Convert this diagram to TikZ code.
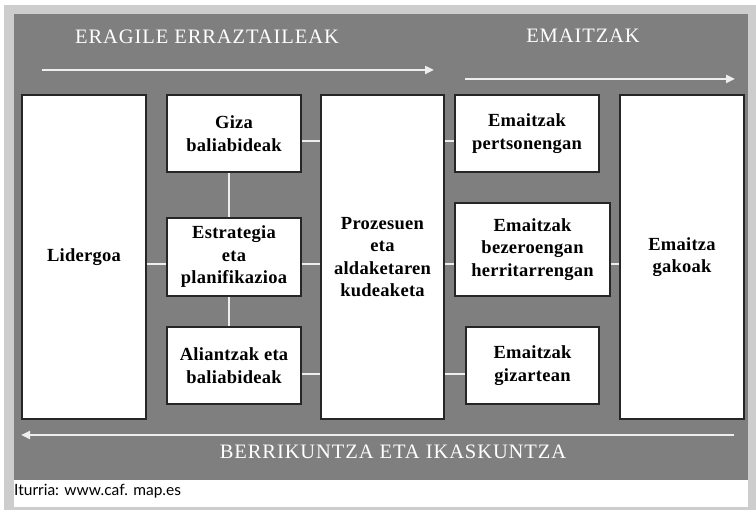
\documentclass[tikz,border=0pt]{standalone}
\usepackage{fontspec}
\setmainfont{Liberation Serif}
\newfontfamily\boxfont{Liberation Serif}[LetterSpace=1.5]
\newfontfamily\titlefont{Liberation Serif}[LetterSpace=4.5]
\newfontfamily\srcfont{Lato}
\usetikzlibrary{arrows.meta}
\definecolor{bggray}{HTML}{7F7F7F}
\definecolor{rimgray}{HTML}{CDCDCD}
\definecolor{linew}{HTML}{EEEEEE}
\tikzset{
  box/.style={draw=black!85, line width=1.1pt, fill=white, inner sep=0pt, align=center,
    font=\boxfont\fontsize{18.5}{22.5}\selectfont\bfseries},
  conn/.style={draw=linew, line width=2pt},
  bigarrow/.style={draw=linew, line width=2.5pt, -{Triangle[length=9pt,width=8pt]}},
  title/.style={text=white, font=\titlefont\fontsize{20.5}{24}\selectfont, inner sep=0pt}
}
\begin{document}
\begin{tikzpicture}[x=1pt,y=-1pt]
\useasboundingbox (0,0) rectangle (756,510);
\fill[white] (0,0) rectangle (756,510);
\fill[rimgray] (4,5) rectangle (756,510);
\fill[bggray] (14,14) rectangle (748,480);
\fill[white] (14,480) rectangle (748,507);

% boxes
\node[box, minimum width=124pt, minimum height=324pt] (lid) at (84,257) {Lidergoa};
\node[box, minimum width=134pt, minimum height=77pt] (giza) at (234,133.5) {Giza\\baliabideak};
\node[box, minimum width=134pt, minimum height=78pt] (estr) at (234,257) {Estrategia\\eta\\planifikazioa};
\node[box, minimum width=134pt, minimum height=77pt] (alia) at (234,365.5) {Aliantzak eta\\baliabideak};
\node[box, minimum width=123pt, minimum height=324pt] (proz) at (382.5,257) {Prozesuen\\eta\\aldaketaren\\kudeaketa};
\node[box, minimum width=144pt, minimum height=77pt] (pert) at (527,133.5) {Emaitzak\\pertsonengan};
\node[box, minimum width=155pt, minimum height=93pt] (beze) at (532.5,249.5) {Emaitzak\\bezeroengan\\herritarrengan};
\node[box, minimum width=133pt, minimum height=77pt] (giz) at (532.5,365.5) {Emaitzak\\gizartean};
\node[box, minimum width=124pt, minimum height=324pt] (gako) at (682,257) {Emaitza\\gakoak};

% anchor coordinates for connectors
\path ([yshift=-7pt]estr.west) coordinate (c1);
\path ([yshift=-7.5pt]giza.east) coordinate (c2);
\path ([yshift=-7pt]estr.east) coordinate (c3);
\path ([yshift=-8.5pt]alia.east) coordinate (c4);
\path ([xshift=-5pt]giza.south) coordinate (c5);
\path ([xshift=-5pt]alia.north) coordinate (c6);
\path ([yshift=-14.5pt]beze.east) coordinate (c7);

% connectors
\draw[conn] (lid.east |- c1) -- (c1);
\draw[conn] (c2) -- (proz.west |- c2);
\draw[conn] (c3) -- (proz.west |- c3);
\draw[conn] (c4) -- (proz.west |- c4);
\draw[conn] (c5) -- (estr.north -| c5);
\draw[conn] (estr.south -| c6) -- (c6);
\draw[conn] (proz.east |- c2) -- (pert.west |- c2);
\draw[conn] (proz.east |- c7) -- (beze.west |- c7);
\draw[conn] (proz.east |- c4) -- (giz.west |- c4);
\draw[conn] (c7) -- (gako.west |- c7);

% titles and arrows
\node[title] (t1) at (207,37) {ERAGILE ERRAZTAILEAK};
\node[title] (t2) at (583,36) {EMAITZAK};
\node[title] (t3) at (393,452) {BERRIKUNTZA ETA IKASKUNTZA};
\coordinate (a1s) at (42,70);
\coordinate (a1e) at (434,70);
\coordinate (a2s) at (465,79);
\coordinate (a2e) at (735,79);
\coordinate (a3s) at (734,435);
\coordinate (a3e) at (21,435);
\draw[bigarrow] (a1s) -- (a1e);
\draw[bigarrow] (a2s) -- (a2e);
\draw[bigarrow] (a3s) -- (a3e);

\node[anchor=west, inner sep=0pt, font=\srcfont\fontsize{15.5}{18}\selectfont] (src) at (14,491) {Iturria: www.caf. map.es};
\end{tikzpicture}
\end{document}
